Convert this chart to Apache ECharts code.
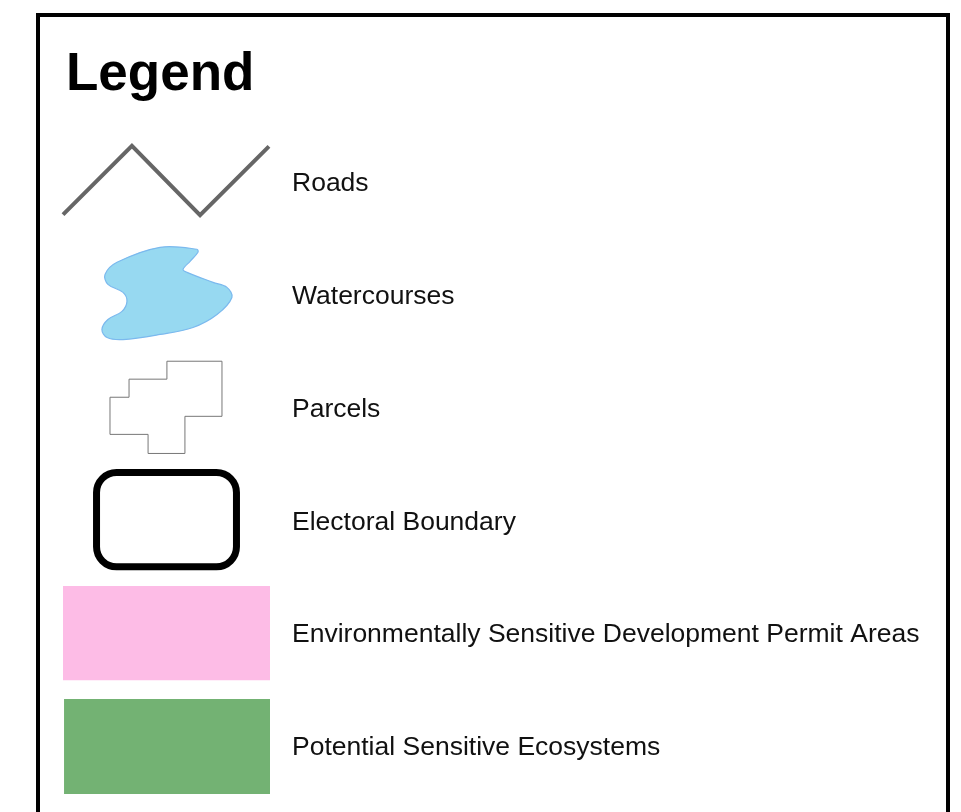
<!DOCTYPE html>
<html>
<head>
<meta charset="utf-8">
<script src="https://cdn.jsdelivr.net/npm/echarts@6/dist/echarts.min.js"></script>
<style>
html,body{margin:0;padding:0;background:#fff;}
#chart{width:961px;height:812px;}
</style>
</head>
<body>
<div id="chart"></div>
<script>
// Legend entries (one row each, top to bottom)
const labels = [
  'Roads',
  'Watercourses',
  'Parcels',
  'Electoral Boundary',
  'Environmentally Sensitive Development Permit Areas',
  'Potential Sensitive Ecosystems'
];
const titleText = 'Legend';

// Icon geometry in icon units: x 0..100 across swatch, y offset in row units
const roadPath = [[0, 0.285], [33.3, -0.325], [66.2, 0.29], [99.5, -0.32]];
const waterOutline = [
  [64.7, -0.409], [46.9, -0.426], [26.1, -0.293], [20.3, -0.186], [21.7, -0.098],
  [29.0, -0.027], [30.9, 0.053], [28.5, 0.142], [21.7, 0.213], [18.8, 0.302],
  [21.3, 0.373], [29.0, 0.391], [46.9, 0.346], [62.8, 0.284], [74.4, 0.169],
  [81.6, 0.018], [79.2, -0.071], [72.5, -0.115], [59.9, -0.204], [58.0, -0.231],
  [61.4, -0.302], [65.2, -0.382]
];
const parcelOutline = [
  [50.2, -0.417], [76.8, -0.417], [76.8, 0.071], [58.9, 0.071], [58.9, 0.400],
  [41.1, 0.400], [41.1, 0.231], [22.7, 0.231], [22.7, -0.098], [31.9, -0.098],
  [31.9, -0.258], [50.2, -0.258]
];
const boundaryBox = [16.2, -0.431, 83.8, 0.404];
const esdpBox = [0, -0.426, 100, 0.409];
const pseBox = [0.5, -0.426, 100, 0.417];

const FONT = 'Liberation Sans';

const chart = echarts.init(document.getElementById('chart'), null, {renderer: 'canvas'});

function pts(arr, row, api) {
  return arr.map(p => api.coord([p[0], row + p[1]]));
}
function boxRect(b, row, api, r) {
  const a = api.coord([b[0], row + b[1]]);
  const c = api.coord([b[2], row + b[3]]);
  return {x: a[0], y: a[1], width: c[0] - a[0], height: c[1] - a[1], r: r || 0};
}

function renderItem(params, api) {
  const row = api.value(0);
  const idx = params.dataIndex;
  const children = [];
  if (idx === 0) {
    children.push({type: 'polyline', shape: {points: pts(roadPath, row, api)},
      style: {stroke: '#666666', lineWidth: 4, fill: null}});
  } else if (idx === 1) {
    children.push({type: 'polygon', shape: {points: pts(waterOutline, row, api), smooth: 0.35},
      style: {fill: '#97d9f1', stroke: '#7bb9ee', lineWidth: 1.2}});
  } else if (idx === 2) {
    children.push({type: 'polygon', shape: {points: pts(parcelOutline, row, api)},
      style: {fill: '#ffffff', stroke: '#777777', lineWidth: 1}});
  } else if (idx === 3) {
    children.push({type: 'rect', shape: boxRect(boundaryBox, row, api, 20),
      style: {fill: 'rgba(0,0,0,0)', stroke: '#000000', lineWidth: 7}});
  } else if (idx === 4) {
    children.push({type: 'rect', shape: boxRect(esdpBox, row, api),
      style: {fill: '#fdbce6'}});
  } else if (idx === 5) {
    children.push({type: 'rect', shape: boxRect(pseBox, row, api),
      style: {fill: '#73b273'}});
  }
  const t = api.coord([100, row]);
  children.push({type: 'text', style: {
    text: labels[idx], x: t[0] + 22, y: t[1] + 1,
    fontSize: 26.5, fontFamily: FONT, fill: '#111111',
    align: 'left', verticalAlign: 'middle'
  }});
  return {type: 'group', children: children};
}

const option = {
  backgroundColor: '#ffffff',
  animation: false,
  title: {
    text: titleText, left: 66, top: 49, padding: 0,
    textStyle: {fontSize: 53, fontWeight: 'bold', color: '#000000', fontFamily: FONT}
  },
  graphic: [{
    type: 'rect', left: 36, top: 13,
    shape: {x: 0, y: 0, width: 910, height: 900},
    style: {fill: 'rgba(0,0,0,0)', stroke: '#000000', lineWidth: 4}
  }],
  grid: {left: 63, right: 691, top: 182.5, bottom: 65, show: false},
  xAxis: {type: 'value', min: 0, max: 100, show: false},
  yAxis: {type: 'value', min: 0, max: 5, inverse: true, show: false},
  series: [{
    type: 'custom',
    clip: false,
    renderItem: renderItem,
    data: labels.map((l, i) => [i]),
    silent: true
  }]
};
chart.setOption(option);
</script>
</body>
</html>
